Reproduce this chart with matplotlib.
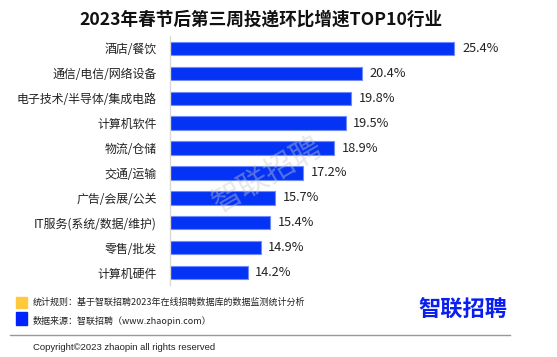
import matplotlib.pyplot as plt
from matplotlib.patches import Rectangle
from matplotlib.lines import Line2D

plt.rcParams['font.family'] = ['Noto Sans CJK SC', 'DejaVu Sans']

# data
industries = ["酒店/餐饮", "通信/电信/网络设备", "电子技术/半导体/集成电路", "计算机软件",
              "物流/仓储", "交通/运输", "广告/会展/公关", "IT服务(系统/数据/维护)",
              "零售/批发", "计算机硬件"]
growth = [25.4, 20.4, 19.8, 19.5, 18.9, 17.2, 15.7, 15.4, 14.9, 14.2]

title = "2023年春节后第三周投递环比增速TOP10行业"
note_rule = "统计规则：基于智联招聘2023年在线招聘数据库的数据监测统计分析"
note_src = "数据来源：智联招聘（www.zhaopin.com）"
copyright_txt = "Copyright©2023 zhaopin all rights reserved"

blue = "#0433F5"
W, H = 557, 357

fig = plt.figure(figsize=(W / 100, H / 100), dpi=100)
ax = fig.add_axes([170 / W, 72 / H, 351 / W, 249 / H])

ypos = list(range(len(industries)))
bars = ax.barh(ypos, growth, left=0, height=0.54, color=blue,
               edgecolor="#6f8bff", linewidth=0.8)
ax.set_xlim(10, 29)
ax.set_ylim(9.5, -0.5)
ax.set_yticks(ypos)
ax.set_yticklabels(industries, fontsize=8.6, color="#222222")
ax.tick_params(axis="y", length=0, pad=9.5)
ax.set_xticks([])
for s in ["top", "right", "bottom"]:
    ax.spines[s].set_visible(False)
ax.spines["left"].set_color("#d9d9d9")
ax.spines["left"].set_linewidth(1.0)

ax.bar_label(bars, labels=[f"{v}%" for v in growth], padding=5.5,
             fontsize=9.2, color="#222222")

# watermark
fig.text(268 / W, 1 - 176 / H, "智联招聘", fontsize=22, rotation=30,
         color="#c8c8c8", alpha=0.42, ha="center", va="center", zorder=10)

# title
fig.text(261 / W, 1 - 20 / H, title, fontsize=12.7, fontweight="bold",
         ha="center", va="center", color="#111111")

# footer notes
fig.add_artist(Rectangle((16 / W, 1 - 308 / H), 11 / W, 11.5 / H,
                         transform=fig.transFigure, color="#FFC83D"))
fig.add_artist(Rectangle((16 / W, 1 - 325 / H), 11 / W, 13 / H,
                         transform=fig.transFigure, color="#0022FF"))
fig.text(33 / W, 1 - 302.5 / H, note_rule, fontsize=6.5, va="center", color="#222222")
fig.text(33 / W, 1 - 320.5 / H, note_src, fontsize=6.5, va="center", color="#222222")

# logo
fig.text(463 / W, 1 - 310 / H, "智联招聘", fontsize=16, fontweight="bold",
         ha="center", va="center", color="#0A1EF0")

fig.add_artist(Line2D([10 / W, 510 / W], [1 - 334.5 / H, 1 - 334.5 / H],
                      transform=fig.transFigure, color="#999999", linewidth=1))
fig.text(33 / W, 1 - 347 / H, copyright_txt, fontsize=6.8, va="center",
         color="#222222", family=["Liberation Sans", "DejaVu Sans"])

fig.savefig("out.png", dpi=100)
